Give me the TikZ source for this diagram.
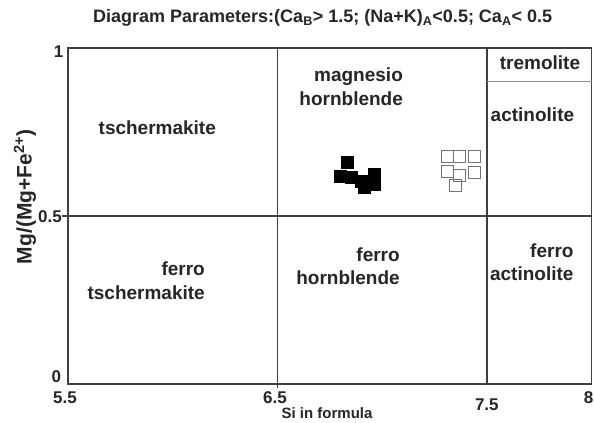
\documentclass[tikz,border=0pt]{standalone}
\usepackage{fontspec}
\setmainfont{Liberation Sans}
\begin{document}
\begin{tikzpicture}[x=209.4pt, y=336pt,
	lbl/.style={font=\fontsize{19}{23.5}\selectfont\bfseries, text=black!85, align=right, anchor=east, inner sep=0pt},
	tick/.style={font=\fontsize{17}{19}\selectfont\bfseries, text=black!85, inner sep=0pt},
	frame/.style={draw=black!75, line width=1.8pt},
	full/.style={draw=black, fill=black, minimum size=12pt, inner sep=0pt},
	hollow/.style={draw=black!55, line width=0.8pt, minimum size=12pt, inner sep=0pt}]
	\useasboundingbox[fill=white] (5.175,-0.116) rectangle (8.012,1.143);
	
	% fields
	\draw[frame] (5.5,0) rectangle (8,1);
	\draw[frame] (5.5,0.5) -- (8,0.5);
	\draw[frame] (6.5,0) -- (6.5,1);
	\draw[frame] (7.5,0) -- (7.5,1);
	\draw[draw=black!45, line width=0.8pt] (7.5,0.9) -- (8,0.9);
	\draw[frame] (5.47,0.5) -- (5.5,0.5);
	\draw[frame] (6.5,0) -- (6.5,-0.012);
	
	% names
	\node[lbl] (tscher) at (6.207,0.762) {tschermakite};
	\node[lbl] (mghbl) at (7.100,0.885) {magnesio\\hornblende};
	\node[lbl, anchor=center] (trem) at (7.754,0.955) {tremolite};
	\node[lbl] (act) at (7.918,0.801) {actinolite};
	\node[lbl] (fetscher) at (6.154,0.308) {ferro\\tschermakite};
	\node[lbl] (fehbl) at (7.085,0.350) {ferro\\hornblende};
	\node[lbl] (feact) at (7.915,0.362) {ferro\\actinolite};
	
	% data
	\node[full] (f1) at (6.832,0.661) {};
	\node[full] (f2) at (6.799,0.619) {};
	\node[full] (f3) at (6.851,0.616) {};
	\node[full] (f4) at (6.899,0.604) {};
	\node[full] (f5) at (6.913,0.586) {};
	\node[full] (f6) at (6.961,0.625) {};
	\node[full] (f7) at (6.961,0.595) {};
	\node[hollow] (h1) at (7.310,0.676) {};
	\node[hollow] (h2) at (7.367,0.676) {};
	\node[hollow] (h3) at (7.439,0.676) {};
	\node[hollow] (h4) at (7.310,0.634) {};
	\node[hollow] (h5) at (7.367,0.622) {};
	\node[hollow] (h6) at (7.439,0.631) {};
	\node[hollow] (h7) at (7.348,0.592) {};
	
	% axes
	\node[tick, font=\fontsize{18}{20}\selectfont\bfseries] (title) at (6.716,1.089) {Diagram Parameters:(Ca\textsubscript{B}> 1.5; (Na+K)\textsubscript{A}<0.5; Ca\textsubscript{A}< 0.5};
	\node[tick, rotate=90, font=\fontsize{21}{23}\selectfont\bfseries] (ylab) at (5.294,0.557) {Mg/(Mg+Fe\textsuperscript{2+})};
	\node[tick, anchor=east] (y1) at (5.478,0.988) {1};
	\node[tick, anchor=east] (y05) at (5.471,0.497) {0.5};
	\node[tick, anchor=east] (y0) at (5.468,0.021) {0};
	\node[tick] (x55) at (5.485,-0.042) {5.5};
	\node[tick] (x65) at (6.488,-0.042) {6.5};
	\node[tick] (x75) at (7.500,-0.063) {7.5};
	\node[tick, anchor=east] (x8) at (8.010,-0.042) {8};
	\node[tick, font=\fontsize{15}{17}\selectfont\bfseries] (xlab) at (6.737,-0.088) {Si in formula};
\end{tikzpicture}
\end{document}
